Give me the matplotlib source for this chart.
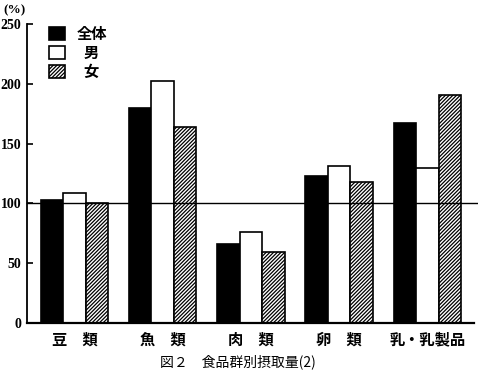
import matplotlib
matplotlib.use('Agg')
import matplotlib.pyplot as plt
import numpy as np

plt.rcParams['font.family'] = ['Noto Sans CJK JP', 'DejaVu Sans']
plt.rcParams['hatch.linewidth'] = 0.9

# データ (%)
categories = ['豆　類', '魚　類', '肉　類', '卵　類', '乳・乳製品']
total = [103, 180, 66, 123, 167]
male = [109, 202, 76, 131, 130]
female = [100, 164, 59, 118, 191]
series_names = ['全体', '  男', '  女']
yticks = [0, 50, 100, 150, 200, 250]

fig = plt.figure(figsize=(4.78, 3.74), dpi=100, facecolor='white')
ax = fig.add_axes([27 / 478, 51 / 374, 447 / 478, 299 / 374])

x = np.arange(len(categories))
w = 0.255
ax.bar(x - w, total, w, color='black', edgecolor='black', linewidth=1.2, label=series_names[0], zorder=2)
ax.bar(x, male, w, color='white', edgecolor='black', linewidth=1.2, label=series_names[1], zorder=2)
ax.bar(x + w, female, w, color='white', edgecolor='black', linewidth=1.2, hatch='/////////',
       label=series_names[2], zorder=2)

# 100%の基準線
ax.plot([0, 1.01], [100, 100], transform=ax.get_yaxis_transform(), color='black',
        linewidth=1.0, clip_on=False, zorder=3)

ax.set_xlim(-0.538, 4.527)
ax.set_ylim(0, 250)
ax.spines['top'].set_visible(False)
ax.spines['right'].set_visible(False)
ax.spines['left'].set_linewidth(1.3)
ax.spines['bottom'].set_linewidth(1.6)
ax.set_yticks(yticks)
ax.set_yticklabels([str(v) for v in yticks], fontfamily='Liberation Serif',
                   fontweight='bold', fontsize=10)
ax.tick_params(axis='y', direction='in', length=4, width=1.2, pad=4)
ax.set_xticks(x)
ax.set_xticklabels(categories, fontweight='bold', fontsize=11)
ax.tick_params(axis='x', length=0, pad=6)

fig.text(3 / 478, 1 - 10 / 374, '(%)', fontfamily='Liberation Serif', fontweight='bold',
         fontsize=9.5, va='center', ha='left')

leg = ax.legend(loc='upper left', bbox_to_anchor=(0.035, 1.015), frameon=False,
                prop={'weight': 'bold', 'size': 11}, handlelength=1.05, handleheight=1.0,
                handletextpad=0.8, labelspacing=0.2, borderaxespad=0.0)

fig.text(238 / 478, 1 - 362 / 374, '図２　食品群別摂取量(2)', fontsize=10,
         ha='center', va='center')

fig.savefig('out.png', dpi=100, facecolor='white')
